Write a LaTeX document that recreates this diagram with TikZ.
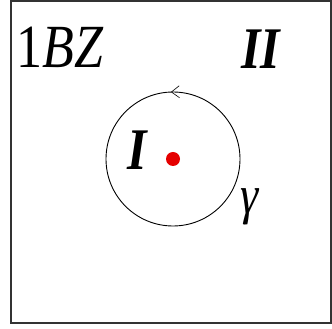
\documentclass[tikz,border=0pt]{standalone}
\usepackage{fontspec}
\setmainfont{Liberation Serif}
\usetikzlibrary{arrows.meta,decorations.markings}

\newcommand{\tallbox}[1]{\scalebox{1}[1.18]{#1}}

\begin{document}
\begin{tikzpicture}[
  x=1pt,y=1pt,
  every node/.style={inner sep=0pt,align=center},
  zone/.style={draw=black!80,line width=1.1pt},
  loop/.style={draw,line width=0.9pt,
               postaction={decorate,decoration={markings,
                 mark=at position 0.255 with {\arrow{Straight Barb[length=8pt,width=12pt,line width=0.6pt]}}}}},
  lab/.style={font=\fontsize{50}{54}\selectfont\bfseries\itshape},
  dot/.style={circle,fill=red!90!black,minimum size=14pt}
]
\useasboundingbox (0,0) rectangle (332,329);
% --- zone frame ---
\draw[zone] (11,6) rectangle (331,328);
% --- contour round the point ---
\coordinate (c) at (173,170);
\draw[loop] (c) circle[radius=67];
\node[dot] (pt) at (c) {};
% --- labels ---
\node[font=\fontsize{52}{56}\selectfont] (bz) at (60,282) {\tallbox{1\textit{BZ}}};
\node[lab] (two) at (261,280) {\tallbox{II}};
\node[lab] (one) at (137,179) {\tallbox{I}};
\node[font=\fontsize{46}{50}\selectfont\itshape] (gam) at (250,122) {\tallbox{γ}};
\end{tikzpicture}
\end{document}
